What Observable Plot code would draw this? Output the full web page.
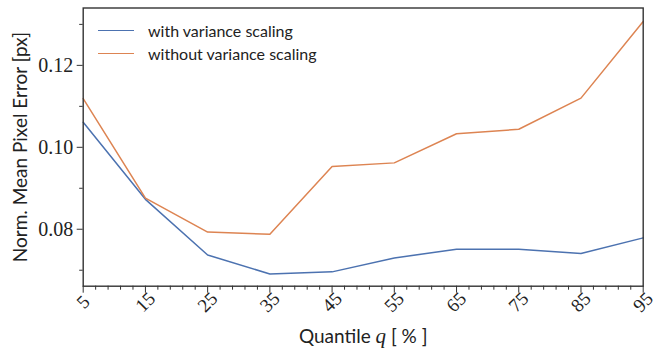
<!DOCTYPE html>
<html><head><meta charset="utf-8">
<script src="https://cdn.jsdelivr.net/npm/d3@7"></script>
<script src="https://cdn.jsdelivr.net/npm/@observablehq/plot@0.6"></script>
<style>
body{margin:0;background:#fff;}
#wrap{position:relative;width:662px;height:348px;}
.legend{position:absolute;left:98px;top:18.5px;font-family:Lato,sans-serif;font-size:16px;color:#222;}
.legend .row{display:flex;align-items:center;height:23px;}
.legend .sw{width:36px;height:0;border-top:1.5px solid;margin-right:14px;}
</style></head><body><div id="wrap"></div>
<script>
const quantiles = [5, 15, 25, 35, 45, 55, 65, 75, 85, 95];
const withScaling = [0.1061, 0.0873, 0.0737, 0.0691, 0.0696, 0.0730, 0.0751, 0.0751, 0.0741, 0.0779];
const withoutScaling = [0.1119, 0.0876, 0.0793, 0.0788, 0.0953, 0.0962, 0.1033, 0.1044, 0.1120, 0.1307];
const seriesNames = ["with variance scaling", "without variance scaling"];
const seriesColors = ["#4C72B0", "#DD8452"];
const xTickValues = [5, 15, 25, 35, 45, 55, 65, 75, 85, 95];
const xTickLabels = ["5", "15", "25", "35", "45", "55", "65", "75", "85", "95"];
const yTickValues = [0.08, 0.10, 0.12];
const yTickLabels = ["0.08", "0.10", "0.12"];
const yMinorTicks = [0.07, 0.09, 0.11, 0.13];
const xMinorTicks = d3.range(5, 96, 2).filter(v => !xTickValues.includes(v));
const yLabel = "Norm. Mean Pixel Error [px]";
const xLabel = "Quantile q [ % ]";

const rows = [];
quantiles.forEach((q, i) => {
  rows.push({q, v: withScaling[i], s: seriesNames[0]});
});
quantiles.forEach((q, i) => {
  rows.push({q, v: withoutScaling[i], s: seriesNames[1]});
});

const axisColor = "#333";
const serif = "'Liberation Serif', serif";
const sans = "Lato, sans-serif";

const chart = Plot.plot({
  width: 662,
  height: 348,
  marginLeft: 82.7,
  marginRight: 19.3,
  marginTop: 7.5,
  marginBottom: 62.3,
  style: {background: "#fff", color: "#222"},
  x: {domain: [5, 95]},
  y: {domain: [0.0661, 0.1340]},
  color: {domain: seriesNames, range: seriesColors},
  marks: [
    Plot.line(rows, {x: "q", y: "v", z: "s", stroke: "s", strokeWidth: 1.5}),
    Plot.axisY(yMinorTicks, {tickSize: 3.5, text: null, label: null, stroke: axisColor}),
    Plot.axisY(yTickValues, {tickSize: 6, tickPadding: 4, label: null, stroke: axisColor,
      tickFormat: (d, i) => yTickLabels[i], fontSize: 20, fill: "#222"}),
    Plot.axisX(xMinorTicks, {tickSize: 4, text: null, label: null, stroke: axisColor}),
    Plot.axisX(xTickValues, {tickSize: 7, tickPadding: 9, tickRotate: -45, textAnchor: "middle", lineAnchor: "middle",
      label: null, stroke: axisColor, tickFormat: (d, i) => xTickLabels[i], fontSize: 19, fill: "#222"}),
    Plot.frame({stroke: axisColor, strokeWidth: 1.4}),
    Plot.text([yLabel], {frameAnchor: "left", textAnchor: "middle", rotate: -90, dx: -62, fontSize: 19, fill: "#222"}),
    Plot.text([xLabel], {frameAnchor: "bottom", dy: 57, fontSize: 19, fill: "#222"})
  ]
});

const tickSet = new Set([...xTickLabels, ...yTickLabels]);
chart.querySelectorAll("text").forEach(el => {
  const s = el.textContent;
  if (tickSet.has(s)) {
    el.style.fontFamily = serif;
    el.style.fontVariantNumeric = "normal";
  } else if (s === yLabel) {
    el.style.fontFamily = sans;
  } else if (s === xLabel) {
    el.style.fontFamily = sans;
    el.textContent = "";
    const ns = "http://www.w3.org/2000/svg";
    const a = document.createElementNS(ns, "tspan"); a.textContent = "Quantile ";
    const b = document.createElementNS(ns, "tspan"); b.textContent = "q";
    b.style.fontFamily = serif; b.style.fontStyle = "italic"; b.setAttribute("font-size", 21);
    const c = document.createElementNS(ns, "tspan"); c.textContent = " [ % ]";
    el.append(a, b, c);
  }
});

const wrap = document.getElementById("wrap");
wrap.appendChild(chart);
const legend = document.createElement("div");
legend.className = "legend";
seriesNames.forEach((n, i) => {
  const row = document.createElement("div");
  row.className = "row";
  const sw = document.createElement("span");
  sw.className = "sw";
  sw.style.borderColor = seriesColors[i];
  const lab = document.createElement("span");
  lab.textContent = n;
  row.appendChild(sw);
  row.appendChild(lab);
  legend.appendChild(row);
});
wrap.appendChild(legend);
</script>
</body></html>
